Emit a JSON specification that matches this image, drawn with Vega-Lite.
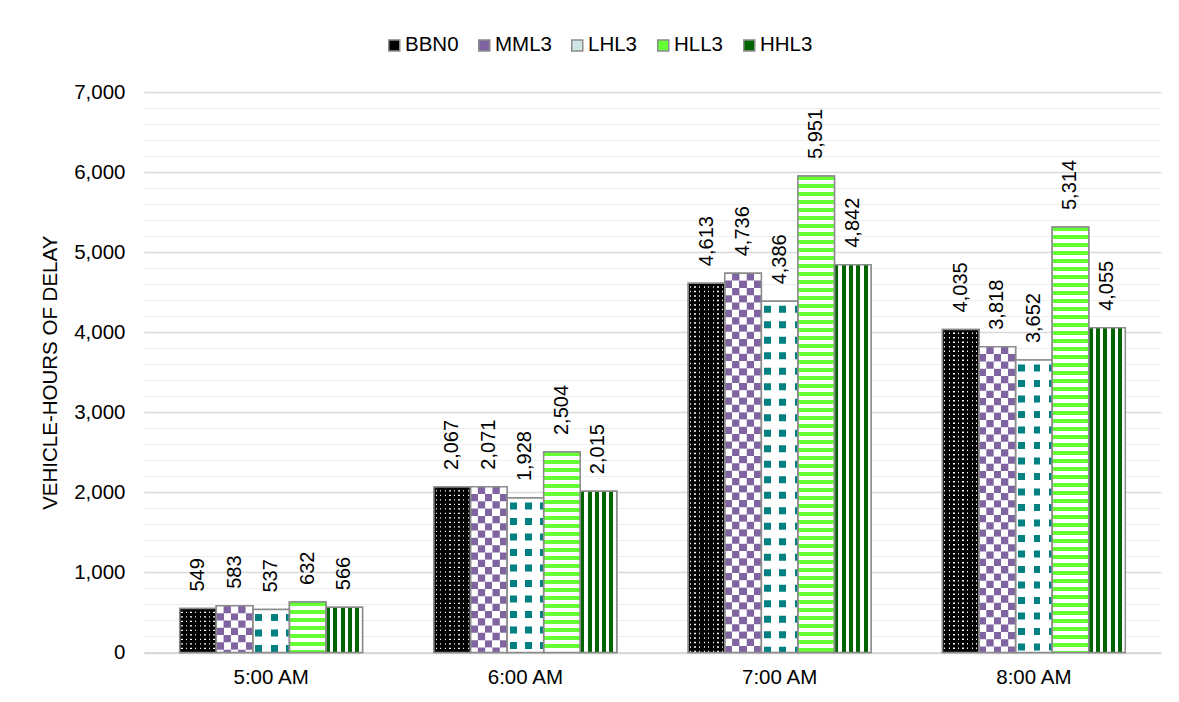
{
  "$schema": "https://vega.github.io/schema/vega-lite/v6.json",
  "autosize": {"type": "none"},
  "padding": {"left": 144, "top": 92, "right": 18, "bottom": 49.5},
  "width": 1017,
  "height": 560.5,
  "background": "#ffffff",
  "config": {
    "font": "Liberation Sans",
    "view": {"stroke": null},
    "legend": {
      "orient": "none",
      "legendX": 240,
      "legendY": -57,
      "direction": "horizontal",
      "symbolType": "square",
      "symbolSize": 121,
      "symbolStrokeColor": "#8c8c8c",
      "symbolStrokeWidth": 1.5,
      "labelFontSize": 20.5,
      "labelColor": "#000000",
      "labelOffset": 0.5,
      "columnPadding": 15
    }
  },
  "data": {
    "values": [
      {"time": "5:00 AM", "series": "BBN0", "value": 549},
      {"time": "5:00 AM", "series": "MML3", "value": 583},
      {"time": "5:00 AM", "series": "LHL3", "value": 537},
      {"time": "5:00 AM", "series": "HLL3", "value": 632},
      {"time": "5:00 AM", "series": "HHL3", "value": 566},
      {"time": "6:00 AM", "series": "BBN0", "value": 2067},
      {"time": "6:00 AM", "series": "MML3", "value": 2071},
      {"time": "6:00 AM", "series": "LHL3", "value": 1928},
      {"time": "6:00 AM", "series": "HLL3", "value": 2504},
      {"time": "6:00 AM", "series": "HHL3", "value": 2015},
      {"time": "7:00 AM", "series": "BBN0", "value": 4613},
      {"time": "7:00 AM", "series": "MML3", "value": 4736},
      {"time": "7:00 AM", "series": "LHL3", "value": 4386},
      {"time": "7:00 AM", "series": "HLL3", "value": 5951},
      {"time": "7:00 AM", "series": "HHL3", "value": 4842},
      {"time": "8:00 AM", "series": "BBN0", "value": 4035},
      {"time": "8:00 AM", "series": "MML3", "value": 3818},
      {"time": "8:00 AM", "series": "LHL3", "value": 3652},
      {"time": "8:00 AM", "series": "HLL3", "value": 5314},
      {"time": "8:00 AM", "series": "HHL3", "value": 4055}
    ]
  },
  "encoding": {
    "x": {
      "field": "time",
      "type": "nominal",
      "sort": ["5:00 AM", "6:00 AM", "7:00 AM", "8:00 AM"],
      "scale": {"paddingInner": 0.281, "paddingOuter": 0.1405},
      "axis": {
        "title": null,
        "labelAngle": 0,
        "labelFontSize": 20.5,
        "labelColor": "#000000",
        "labelPadding": 15,
        "ticks": false,
        "grid": false,
        "domainColor": "#d9d9d9",
        "domainWidth": 2
      }
    },
    "xOffset": {
      "field": "series",
      "type": "nominal",
      "sort": ["BBN0", "MML3", "LHL3", "HLL3", "HHL3"],
      "scale": {"paddingInner": 0, "paddingOuter": 0}
    },
    "y": {
      "field": "value",
      "type": "quantitative",
      "scale": {"domain": [0, 7000], "nice": false},
      "axis": null
    }
  },
  "resolve": {"axis": {"y": "independent"}},
  "layer": [
    {
      "mark": {"type": "bar", "stroke": "#8c8c8c", "strokeWidth": 1.5},
      "encoding": {
        "y": {
          "field": "value",
          "type": "quantitative",
          "scale": {"domain": [0, 7000], "nice": false},
          "axis": {
            "title": "VEHICLE-HOURS OF DELAY",
            "values": [0, 1000, 2000, 3000, 4000, 5000, 6000, 7000],
            "format": ",d",
            "grid": true,
            "gridColor": "#d9d9d9",
            "gridWidth": 1.3,
            "domain": false,
            "ticks": false,
            "labelPadding": 19,
            "labelFontSize": 20.5,
            "labelColor": "#000000",
            "titleFontSize": 20.5,
            "titleFontWeight": "normal",
            "titleColor": "#000000",
            "titlePadding": 13
          }
        },
        "fill": {
          "field": "series",
          "type": "nominal",
          "scale": {
            "domain": ["BBN0", "MML3", "LHL3", "HLL3", "HHL3"],
            "range": ["#000000", "#8064a2", "#cfe6e6", "#66ff33", "#006400"]
          },
          "legend": {"title": null}
        }
      }
    },
    {
      "mark": {"type": "bar"},
      "encoding": {
        "fill": {
          "condition": [
            {
              "test": "datum.series === 'BBN0'",
              "value": {
                "gradient": "linear", "x1": 0, "y1": 0, "x2": 1, "y2": 0,
                "stops": [
                  {"offset": 0, "color": "#000000"}, {"offset": 0.0445, "color": "#000000"},
                  {"offset": 0.0445, "color": "#ffffff"}, {"offset": 0.0805, "color": "#ffffff"},
                  {"offset": 0.0805, "color": "#000000"}, {"offset": 0.1695, "color": "#000000"},
                  {"offset": 0.1695, "color": "#ffffff"}, {"offset": 0.2055, "color": "#ffffff"},
                  {"offset": 0.2055, "color": "#000000"}, {"offset": 0.2945, "color": "#000000"},
                  {"offset": 0.2945, "color": "#ffffff"}, {"offset": 0.3305, "color": "#ffffff"},
                  {"offset": 0.3305, "color": "#000000"}, {"offset": 0.4195, "color": "#000000"},
                  {"offset": 0.4195, "color": "#ffffff"}, {"offset": 0.4555, "color": "#ffffff"},
                  {"offset": 0.4555, "color": "#000000"}, {"offset": 0.5445, "color": "#000000"},
                  {"offset": 0.5445, "color": "#ffffff"}, {"offset": 0.5805, "color": "#ffffff"},
                  {"offset": 0.5805, "color": "#000000"}, {"offset": 0.6695, "color": "#000000"},
                  {"offset": 0.6695, "color": "#ffffff"}, {"offset": 0.7055, "color": "#ffffff"},
                  {"offset": 0.7055, "color": "#000000"}, {"offset": 0.7945, "color": "#000000"},
                  {"offset": 0.7945, "color": "#ffffff"}, {"offset": 0.8305, "color": "#ffffff"},
                  {"offset": 0.8305, "color": "#000000"}, {"offset": 0.9195, "color": "#000000"},
                  {"offset": 0.9195, "color": "#ffffff"}, {"offset": 0.9555, "color": "#ffffff"},
                  {"offset": 0.9555, "color": "#000000"}, {"offset": 1, "color": "#000000"}
                ]
              }
            },
            {
              "test": "datum.series === 'MML3'",
              "value": {
                "gradient": "linear", "x1": 0, "y1": 0, "x2": 1, "y2": 0,
                "stops": [
                  {"offset": 0, "color": "#8064a2"}, {"offset": 0.2, "color": "#8064a2"},
                  {"offset": 0.2, "color": "#ffffff"}, {"offset": 0.4, "color": "#ffffff"},
                  {"offset": 0.4, "color": "#8064a2"}, {"offset": 0.6, "color": "#8064a2"},
                  {"offset": 0.6, "color": "#ffffff"}, {"offset": 0.8, "color": "#ffffff"},
                  {"offset": 0.8, "color": "#8064a2"}, {"offset": 1, "color": "#8064a2"}
                ]
              }
            },
            {
              "test": "datum.series === 'LHL3'",
              "value": {
                "gradient": "linear", "x1": 0, "y1": 0, "x2": 1, "y2": 0,
                "stops": [
                  {"offset": 0, "color": "#ffffff"}, {"offset": 0.07, "color": "#ffffff"},
                  {"offset": 0.07, "color": "#008080"}, {"offset": 0.26, "color": "#008080"},
                  {"offset": 0.26, "color": "#ffffff"}, {"offset": 0.49, "color": "#ffffff"},
                  {"offset": 0.49, "color": "#008080"}, {"offset": 0.68, "color": "#008080"},
                  {"offset": 0.68, "color": "#ffffff"}, {"offset": 0.91, "color": "#ffffff"},
                  {"offset": 0.91, "color": "#008080"}, {"offset": 1, "color": "#008080"}
                ]
              }
            },
            {
              "test": "datum.series === 'HHL3'",
              "value": {
                "gradient": "linear", "x1": 0, "y1": 0, "x2": 1, "y2": 0,
                "stops": [
                  {"offset": 0, "color": "#006400"}, {"offset": 0.11, "color": "#006400"},
                  {"offset": 0.11, "color": "#ffffff"}, {"offset": 0.2, "color": "#ffffff"},
                  {"offset": 0.2, "color": "#006400"}, {"offset": 0.31, "color": "#006400"},
                  {"offset": 0.31, "color": "#ffffff"}, {"offset": 0.4, "color": "#ffffff"},
                  {"offset": 0.4, "color": "#006400"}, {"offset": 0.51, "color": "#006400"},
                  {"offset": 0.51, "color": "#ffffff"}, {"offset": 0.6, "color": "#ffffff"},
                  {"offset": 0.6, "color": "#006400"}, {"offset": 0.71, "color": "#006400"},
                  {"offset": 0.71, "color": "#ffffff"}, {"offset": 0.8, "color": "#ffffff"},
                  {"offset": 0.8, "color": "#006400"}, {"offset": 0.91, "color": "#006400"},
                  {"offset": 0.91, "color": "#ffffff"}, {"offset": 1, "color": "#ffffff"}
                ]
              }
            }
          ],
          "value": "#ffffff"
        }
      }
    },
    {
      "transform": [{"filter": "datum.series === 'BBN0'"}],
      "mark": {"type": "rule", "stroke": "#000000", "strokeWidth": 36.56, "strokeDash": [3.2, 1.3]},
      "encoding": {"y2": {"datum": 0}}
    },
    {
      "transform": [{"filter": "datum.series === 'MML3'"}],
      "mark": {"type": "rule", "stroke": "#ffffff", "strokeWidth": 36.56, "strokeDash": [7.31, 7.31]},
      "encoding": {"y2": {"datum": 0}}
    },
    {
      "transform": [{"filter": "datum.series === 'MML3'"}],
      "mark": {"type": "rule", "stroke": "#8064a2", "strokeWidth": 21.94, "strokeDash": [7.31, 7.31]},
      "encoding": {"y2": {"datum": 0}}
    },
    {
      "transform": [{"filter": "datum.series === 'MML3'"}],
      "mark": {"type": "rule", "stroke": "#ffffff", "strokeWidth": 7.31, "strokeDash": [7.31, 7.31]},
      "encoding": {"y2": {"datum": 0}}
    },
    {
      "transform": [{"filter": "datum.series === 'LHL3'"}],
      "mark": {"type": "rule", "stroke": "#ffffff", "strokeWidth": 36.56, "strokeDash": [8.5, 7], "strokeDashOffset": 4},
      "encoding": {"y2": {"datum": 0}}
    },
    {
      "transform": [{"filter": "datum.series === 'HLL3'"}],
      "mark": {"type": "rule", "stroke": "#66ff33", "strokeWidth": 36.56, "strokeDash": [4, 4]},
      "encoding": {"y2": {"datum": 0}}
    },
    {
      "mark": {"type": "bar", "fill": "transparent", "stroke": "#8c8c8c", "strokeWidth": 1.5},
      "encoding": {
        "y": {
          "field": "value",
          "type": "quantitative",
          "scale": {"domain": [0, 7000], "nice": false},
          "axis": {
            "orient": "right",
            "title": null,
            "values": [200, 400, 600, 800, 1200, 1400, 1600, 1800, 2200, 2400, 2600, 2800, 3200, 3400, 3600, 3800, 4200, 4400, 4600, 4800, 5200, 5400, 5600, 5800, 6200, 6400, 6600, 6800],
            "grid": true,
            "gridColor": "#eeeeee",
            "gridWidth": 1,
            "labels": false,
            "ticks": false,
            "domain": false
          }
        }
      }
    },
    {
      "mark": {"type": "text", "angle": 270, "align": "left", "baseline": "middle", "dx": 17, "fontSize": 20, "fill": "#000000"},
      "encoding": {
        "text": {"field": "value", "type": "quantitative", "format": ","}
      }
    }
  ]
}
